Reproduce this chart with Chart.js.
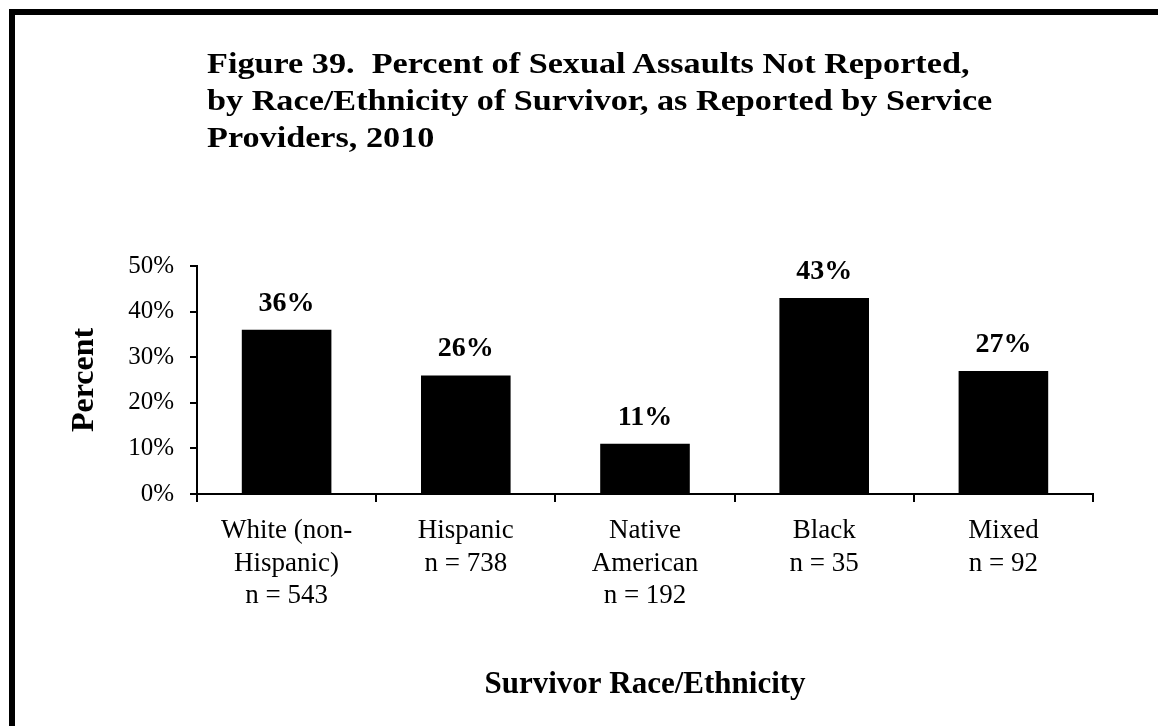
<!DOCTYPE html>
<html>
<head>
<meta charset="utf-8">
<script src="https://cdn.jsdelivr.net/npm/chart.js@4/dist/chart.umd.min.js"></script>
<style>
  html, body { margin: 0; padding: 0; background: #fff; overflow: hidden; }
  #wrap { position: relative; width: 1158px; height: 726px; }
  #chart { position: absolute; left: 0; top: 0; }
  #frame {
    position: absolute; left: 9px; top: 9px; width: 1200px; height: 800px;
    border-top: 6px solid #000; border-left: 6px solid #000; pointer-events: none;
  }
  #title {
    position: absolute; left: 207px; top: 45px; margin: 0;
    font: bold 30px "Liberation Serif", "Times New Roman", serif;
    line-height: 36.8px; white-space: pre; color: #000;
    transform: scaleX(1.14); transform-origin: 0 0;
  }
</style>
</head>
<body>
<div id="wrap">
  <canvas id="chart" width="1158" height="726"></canvas>
  <div id="frame"></div>
  <div id="title">Figure 39.  Percent of Sexual Assaults Not Reported,
by Race/Ethnicity of Survivor, as Reported by Service
Providers, 2010</div>
</div>
<script>
// ---- data ----
const groups = [
  ['White (non-', 'Hispanic)', 'n = 543'],
  ['Hispanic', 'n = 738'],
  ['Native', 'American', 'n = 192'],
  ['Black', 'n = 35'],
  ['Mixed', 'n = 92']
];
const notReported = [36, 26, 11, 43, 27];
const yTicks = [0, 10, 20, 30, 40, 50];

const SERIF = '"Liberation Serif", "Times New Roman", serif';

// percent labels above each bar
const barLabels = {
  id: 'barLabels',
  afterDatasetsDraw(chart) {
    const ctx = chart.ctx;
    const meta = chart.getDatasetMeta(0);
    ctx.save();
    ctx.font = 'bold 28px ' + SERIF;
    ctx.fillStyle = '#000';
    ctx.textAlign = 'center';
    ctx.textBaseline = 'alphabetic';
    meta.data.forEach((bar, i) => {
      ctx.fillText(notReported[i] + '%', bar.x, bar.y - 19);
    });
    ctx.restore();
  }
};

new Chart(document.getElementById('chart').getContext('2d'), {
  type: 'bar',
  data: {
    labels: groups,
    datasets: [{
      data: notReported,
      backgroundColor: '#000',
      borderWidth: 0,
      barPercentage: 0.5,
      categoryPercentage: 1
    }]
  },
  options: {
    responsive: false,
    animation: false,
    events: [],
    layout: { padding: { left: 0, right: 65, top: 266, bottom: 0 } },
    plugins: {
      legend: { display: false },
      tooltip: { enabled: false }
    },
    scales: {
      x: {
        offset: true,
        grid: { offset: true, drawOnChartArea: false, drawTicks: true, tickLength: 8, color: '#000', lineWidth: 2 },
        border: { display: true, color: '#000', width: 2 },
        ticks: {
          color: '#000',
          padding: 12,
          maxRotation: 0,
          autoSkip: false,
          font: { family: SERIF, size: 27, lineHeight: 1.22 }
        },
        title: {
          display: true,
          text: 'Survivor Race/Ethnicity',
          color: '#000',
          font: { family: SERIF, size: 31, weight: 'bold', lineHeight: 1.2 },
          padding: { top: 0, bottom: 22 }
        },
        afterFit(scale) { scale.height = 232; }
      },
      y: {
        min: 0,
        max: 50,
        afterBuildTicks(scale) { scale.ticks = yTicks.map(v => ({ value: v })); },
        grid: { drawOnChartArea: false, drawTicks: true, tickLength: 7, color: '#000', lineWidth: 2 },
        border: { display: true, color: '#000', width: 2 },
        ticks: {
          color: '#000',
          padding: 16,
          font: { family: SERIF, size: 25 },
          callback: v => v + '%'
        },
        title: {
          display: true,
          text: 'Percent',
          color: '#000',
          font: { family: SERIF, size: 32, weight: 'bold', lineHeight: 1.2 },
          padding: { top: 66, bottom: 0 }
        },
        afterFit(scale) { scale.width = 197; }
      }
    }
  },
  plugins: [barLabels]
});
</script>
</body>
</html>
